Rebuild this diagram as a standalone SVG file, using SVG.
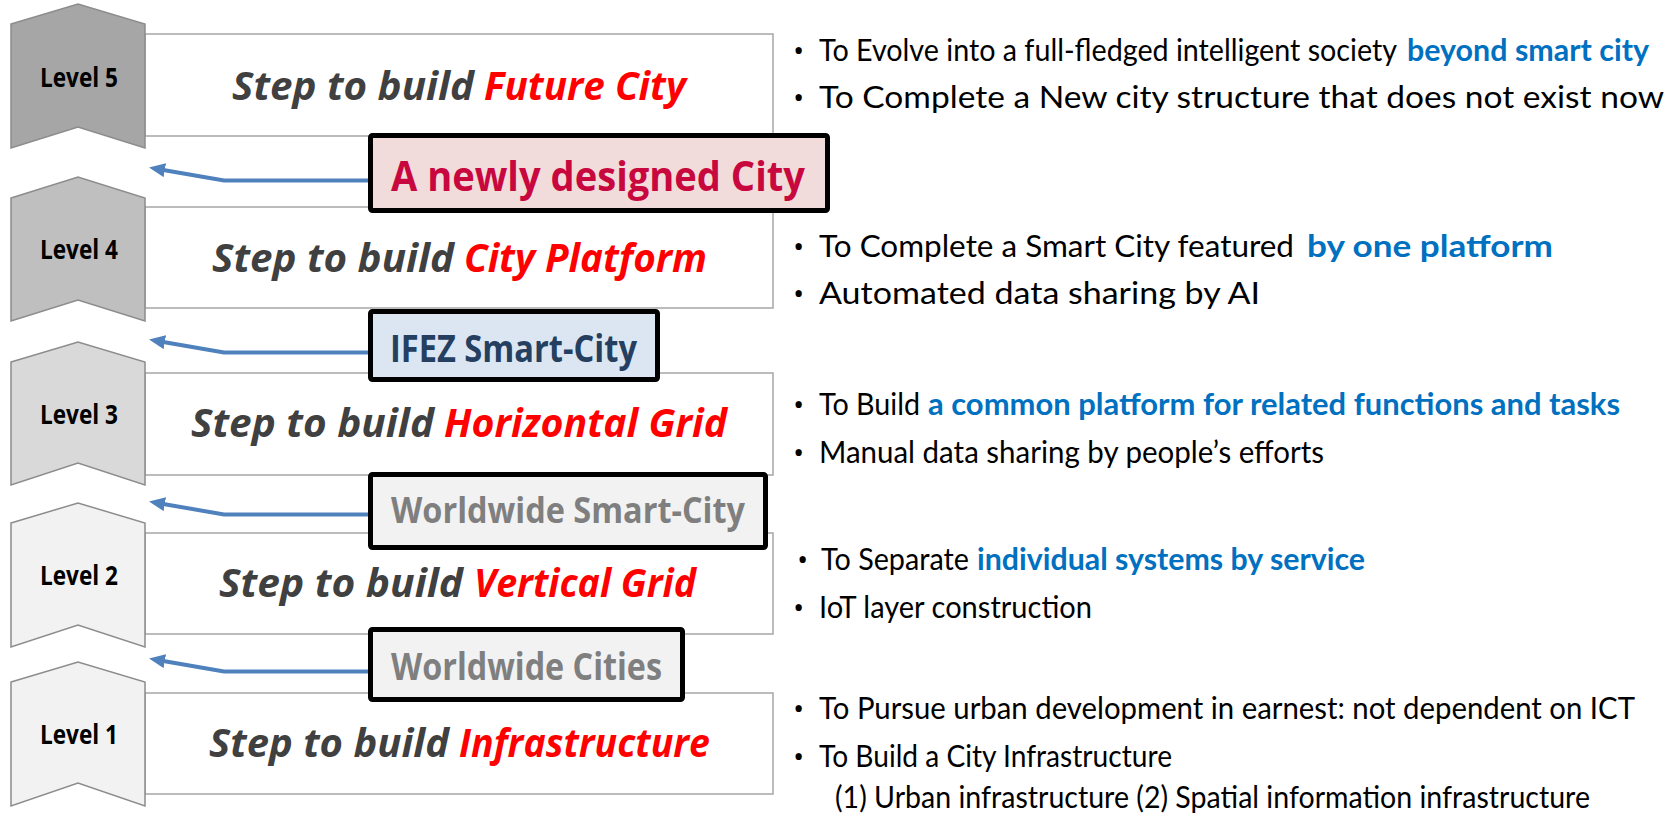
<svg xmlns="http://www.w3.org/2000/svg" width="1680" height="816" viewBox="0 0 1680 816">
<style>
.row{fill:#ffffff;stroke:#a6a6a6;stroke-width:1.5}
.chev{stroke:#8c8c8c;stroke-width:1.5}
.lvl{font-family:"Open Sans","Liberation Sans",sans-serif;font-weight:bold;font-size:26px;fill:#000000;text-anchor:middle}
.step{font-family:"Open Sans","Liberation Sans",sans-serif;font-weight:bold;font-style:italic;font-size:39px;fill:#404040}
.red{fill:#ff0000}
.box{stroke:#000000;stroke-width:5}
.boxt{font-family:"Open Sans","Liberation Sans",sans-serif;font-weight:bold}
.desc{font-family:Lato,"Liberation Sans",sans-serif;font-size:30px;fill:#000000}
.bul{font-family:"Open Sans","Liberation Sans",sans-serif;font-size:30px;fill:#000000}
.blue{font-weight:bold;fill:#0070c0}
.conn{fill:none;stroke:#4f81bd;stroke-width:4}
</style>
<defs>
<marker id="ah" markerUnits="userSpaceOnUse" viewBox="0 0 16 14" refX="6" refY="7" markerWidth="16" markerHeight="14" orient="auto">
<path d="M0,0 L16,7 L0,14 z" fill="#4f81bd"/>
</marker>
</defs>
<rect width="1680" height="816" fill="#ffffff"/>

<g id="level5">
<rect class="row" x="145" y="34" width="628" height="102"/>
<polygon class="chev" fill="#a6a6a6" points="11,24 78,4 145,24 145,148 78,127 11,148"/>
<text class="lvl" x="79" y="87" textLength="78" lengthAdjust="spacingAndGlyphs">Level 5</text>
<text class="step" x="232" y="100" textLength="242" lengthAdjust="spacingAndGlyphs">Step to build</text>
<text class="step red" x="484" y="100" textLength="202" lengthAdjust="spacingAndGlyphs">Future City</text>
</g>

<g id="level4">
<rect class="row" x="145" y="207" width="628" height="101"/>
<polygon class="chev" fill="#bfbfbf" points="11,198 78,177 145,198 145,321 78,300 11,321"/>
<text class="lvl" x="79" y="259" textLength="78" lengthAdjust="spacingAndGlyphs">Level 4</text>
<text class="step" x="212" y="272" textLength="242" lengthAdjust="spacingAndGlyphs">Step to build</text>
<text class="step red" x="464" y="272" textLength="243" lengthAdjust="spacingAndGlyphs">City Platform</text>
</g>

<g id="level3">
<rect class="row" x="145" y="373" width="628" height="102"/>
<polygon class="chev" fill="#d9d9d9" points="11,362 78,342 145,362 145,485 78,463 11,485"/>
<text class="lvl" x="79" y="424" textLength="78" lengthAdjust="spacingAndGlyphs">Level 3</text>
<text class="step" x="191" y="437" textLength="243" lengthAdjust="spacingAndGlyphs">Step to build</text>
<text class="step red" x="444" y="437" textLength="283" lengthAdjust="spacingAndGlyphs">Horizontal Grid</text>
</g>

<g id="level2">
<rect class="row" x="145" y="533" width="628" height="101"/>
<polygon class="chev" fill="#f2f2f2" points="11,523 78,503 145,523 145,647 78,625 11,647"/>
<text class="lvl" x="79" y="585" textLength="78" lengthAdjust="spacingAndGlyphs">Level 2</text>
<text class="step" x="219" y="597" textLength="244" lengthAdjust="spacingAndGlyphs">Step to build</text>
<text class="step red" x="474" y="597" textLength="222" lengthAdjust="spacingAndGlyphs">Vertical Grid</text>
</g>

<g id="level1">
<rect class="row" x="145" y="693" width="628" height="101"/>
<polygon class="chev" fill="#f2f2f2" points="11,682 78,662 145,682 145,806 78,783 11,806"/>
<text class="lvl" x="79" y="744" textLength="78" lengthAdjust="spacingAndGlyphs">Level 1</text>
<text class="step" x="209" y="757" textLength="240" lengthAdjust="spacingAndGlyphs">Step to build</text>
<text class="step red" x="459" y="757" textLength="251" lengthAdjust="spacingAndGlyphs">Infrastructure</text>
</g>

<g id="connectors">
<path class="conn" d="M368,180.5 L224,180.5 L158.9,169.2" marker-end="url(#ah)"/>
<path class="conn" d="M368,352.5 L224,352.5 L158.9,341.2" marker-end="url(#ah)"/>
<path class="conn" d="M368,514.5 L224,514.5 L158.9,503.2" marker-end="url(#ah)"/>
<path class="conn" d="M368,671.5 L224,671.5 L158.9,660.2" marker-end="url(#ah)"/>
</g>

<g id="box-new-city">
<rect class="box" x="370.5" y="135.5" width="457" height="75" rx="2" fill="#f2dcdb"/>
<text class="boxt" x="391" y="191" font-size="42" fill="#c8073f" textLength="414" lengthAdjust="spacingAndGlyphs">A newly designed City</text>
</g>

<g id="box-ifez">
<rect class="box" x="370.5" y="311.5" width="287" height="68" rx="2" fill="#dce6f2"/>
<text class="boxt" x="390" y="362" font-size="37" fill="#243f60" textLength="247" lengthAdjust="spacingAndGlyphs">IFEZ Smart-City</text>
</g>

<g id="box-worldwide-smart">
<rect class="box" x="370.5" y="474.5" width="395" height="73" rx="2" fill="#f2f2f2"/>
<text class="boxt" x="391" y="523" font-size="36" fill="#7f7f7f" textLength="354" lengthAdjust="spacingAndGlyphs">Worldwide Smart-City</text>
</g>

<g id="box-worldwide-cities">
<rect class="box" x="370.5" y="629.5" width="312" height="70" rx="2" fill="#f2f2f2"/>
<text class="boxt" x="391" y="680" font-size="37" fill="#7f7f7f" textLength="271" lengthAdjust="spacingAndGlyphs">Worldwide Cities</text>
</g>

<g id="desc5">
<text class="bul" x="793" y="61">•</text>
<text class="desc" x="819" y="61" textLength="578" lengthAdjust="spacingAndGlyphs">To Evolve into a full-fledged intelligent society</text>
<text class="desc blue" x="1407" y="61" textLength="242" lengthAdjust="spacingAndGlyphs">beyond smart city</text>
<text class="bul" x="793" y="108">•</text>
<text class="desc" x="819" y="108" textLength="845" lengthAdjust="spacingAndGlyphs">To Complete a New city structure that does not exist now</text>
</g>

<g id="desc4">
<text class="bul" x="793" y="257">•</text>
<text class="desc" x="819" y="257" textLength="475" lengthAdjust="spacingAndGlyphs">To Complete a Smart City featured</text>
<text class="desc blue" x="1307" y="257" textLength="246" lengthAdjust="spacingAndGlyphs">by one platform</text>
<text class="bul" x="793" y="304">•</text>
<text class="desc" x="819" y="304" textLength="441" lengthAdjust="spacingAndGlyphs">Automated data sharing by AI</text>
</g>

<g id="desc3">
<text class="bul" x="793" y="415">•</text>
<text class="desc" x="819" y="415" textLength="101" lengthAdjust="spacingAndGlyphs">To Build</text>
<text class="desc blue" x="928" y="415" textLength="692" lengthAdjust="spacingAndGlyphs">a common platform for related functions and tasks</text>
<text class="bul" x="793" y="463">•</text>
<text class="desc" x="819" y="463" textLength="505" lengthAdjust="spacingAndGlyphs">Manual data sharing by people’s efforts</text>
</g>

<g id="desc2">
<text class="bul" x="797" y="570">•</text>
<text class="desc" x="821" y="570" textLength="148" lengthAdjust="spacingAndGlyphs">To Separate</text>
<text class="desc blue" x="977" y="570" textLength="388" lengthAdjust="spacingAndGlyphs">individual systems by service</text>
<text class="bul" x="793" y="618">•</text>
<text class="desc" x="819" y="618" textLength="273" lengthAdjust="spacingAndGlyphs">IoT layer construction</text>
</g>

<g id="desc1">
<text class="bul" x="793" y="719">•</text>
<text class="desc" x="819" y="719" textLength="816" lengthAdjust="spacingAndGlyphs">To Pursue urban development in earnest: not dependent on ICT</text>
<text class="bul" x="793" y="767">•</text>
<text class="desc" x="819" y="767" textLength="353" lengthAdjust="spacingAndGlyphs">To Build a City Infrastructure</text>
<text class="desc" x="835" y="808" textLength="755" lengthAdjust="spacingAndGlyphs">(1) Urban infrastructure (2) Spatial information infrastructure</text>
</g>
</svg>
